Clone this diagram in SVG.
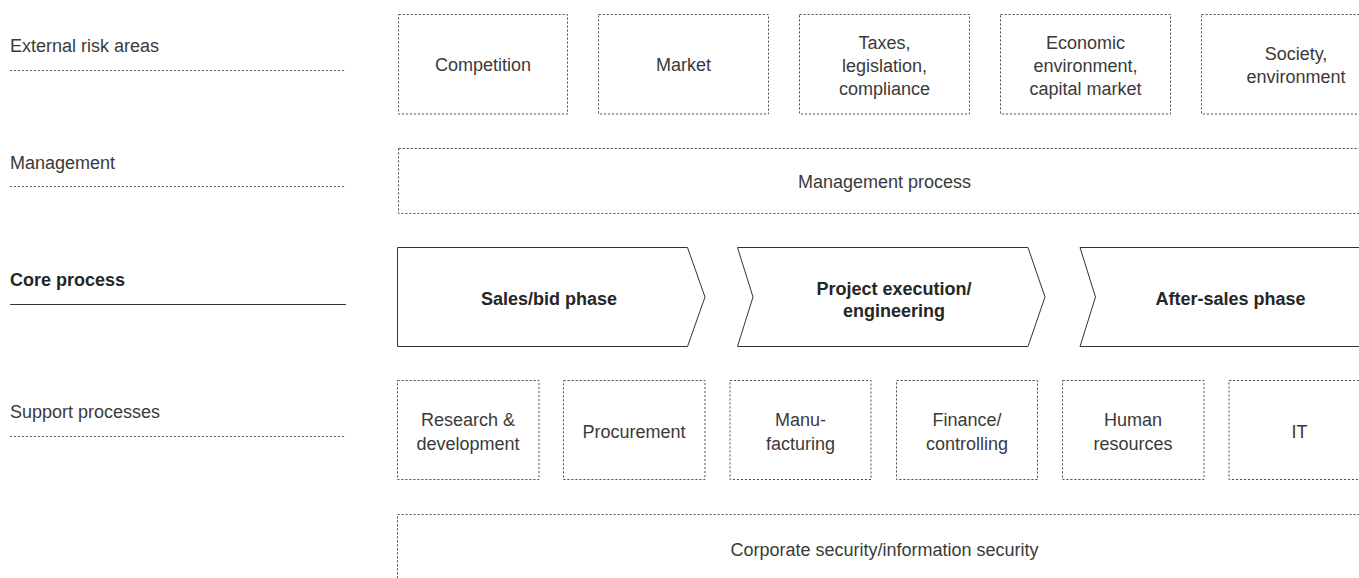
<svg xmlns="http://www.w3.org/2000/svg" width="1359" height="578" viewBox="0 0 1359 578">
<style>
text{font-family:"Liberation Sans",Arial,sans-serif;font-size:18px;fill:#3a3a3a}
.c{text-anchor:middle}
.b{font-weight:bold;fill:#262626}
.box{fill:none;stroke:#555;stroke-width:1;stroke-dasharray:2.2 1.8}
.dl{stroke:#666;stroke-width:1;stroke-dasharray:2.2 1.8}
.sl{stroke:#333;stroke-width:1}
.chev{fill:#fff;stroke:#333;stroke-width:1}
</style>
<rect width="1359" height="578" fill="#fff"/>
<g id="row-labels">
<text x="10" y="52">External risk areas</text>
<line class="dl" x1="10" y1="70.5" x2="346" y2="70.5"/>
<text x="10" y="168.5">Management</text>
<line class="dl" x1="10" y1="186.5" x2="346" y2="186.5"/>
<text class="b" x="10" y="285.5">Core process</text>
<line class="sl" x1="10" y1="304.5" x2="346" y2="304.5"/>
<text x="10" y="418">Support processes</text>
<line class="dl" x1="10" y1="436.5" x2="346" y2="436.5"/>
</g>
<g id="competition"><rect class="box" x="398.5" y="14.5" width="169" height="99.5"/><text class="c" x="483" y="70.5">Competition</text></g>
<g id="market"><rect class="box" x="598.5" y="14.5" width="170" height="99.5"/><text class="c" x="683.5" y="70.5">Market</text></g>
<g id="taxes"><rect class="box" x="799.5" y="14.5" width="170" height="99.5"/><text class="c" x="884.5" y="48.5">Taxes,</text><text class="c" x="884.5" y="71.5">legislation,</text><text class="c" x="884.5" y="94.5">compliance</text></g>
<g id="economic"><rect class="box" x="1000.5" y="14.5" width="170" height="99.5"/><text class="c" x="1085.5" y="48.5">Economic</text><text class="c" x="1085.5" y="71.5">environment,</text><text class="c" x="1085.5" y="94.5">capital market</text></g>
<g id="society"><rect class="box" x="1201.5" y="14.5" width="200" height="99.5"/><text class="c" x="1296" y="59.5">Society,</text><text class="c" x="1296" y="83">environment</text></g>
<g id="management-process"><rect class="box" x="398.5" y="148.5" width="1000" height="65"/><text class="c" x="884.5" y="188">Management process</text></g>
<g id="sales-bid"><polygon class="chev" points="397.5,247.5 687.5,247.5 705,297 687.5,346.5 397.5,346.5"/><text class="c b" x="549" y="305">Sales/bid phase</text></g>
<g id="project-execution"><polygon class="chev" points="737.5,247.5 1028,247.5 1045,297 1028,346.5 737.5,346.5 753,297"/><text class="c b" x="894" y="295">Project execution/</text><text class="c b" x="894" y="317">engineering</text></g>
<g id="after-sales"><polygon class="chev" points="1080,247.5 1400,247.5 1400,346.5 1080,346.5 1095.5,297"/><text class="c b" x="1230.5" y="305">After-sales phase</text></g>
<g id="rnd"><rect class="box" x="397.5" y="380.5" width="141.5" height="99"/><text class="c" x="468" y="426">Research &amp;</text><text class="c" x="468" y="449.5">development</text></g>
<g id="procurement"><rect class="box" x="563.5" y="380.5" width="141.5" height="99"/><text class="c" x="634" y="437.5">Procurement</text></g>
<g id="manufacturing"><rect class="box" x="730" y="380.5" width="141" height="99"/><text class="c" x="800.5" y="426">Manu-</text><text class="c" x="800.5" y="449.5">facturing</text></g>
<g id="finance"><rect class="box" x="896.5" y="380.5" width="141" height="99"/><text class="c" x="967" y="426">Finance/</text><text class="c" x="967" y="449.5">controlling</text></g>
<g id="hr"><rect class="box" x="1062.5" y="380.5" width="141.5" height="99"/><text class="c" x="1133" y="426">Human</text><text class="c" x="1133" y="449.5">resources</text></g>
<g id="it"><rect class="box" x="1229" y="380.5" width="141" height="99"/><text class="c" x="1299.5" y="437.5">IT</text></g>
<g id="security"><rect class="box" x="397.5" y="514.5" width="1000" height="100"/><text class="c" x="884.5" y="555.5">Corporate security/information security</text></g>
<g id="connectors"></g>
</svg>
